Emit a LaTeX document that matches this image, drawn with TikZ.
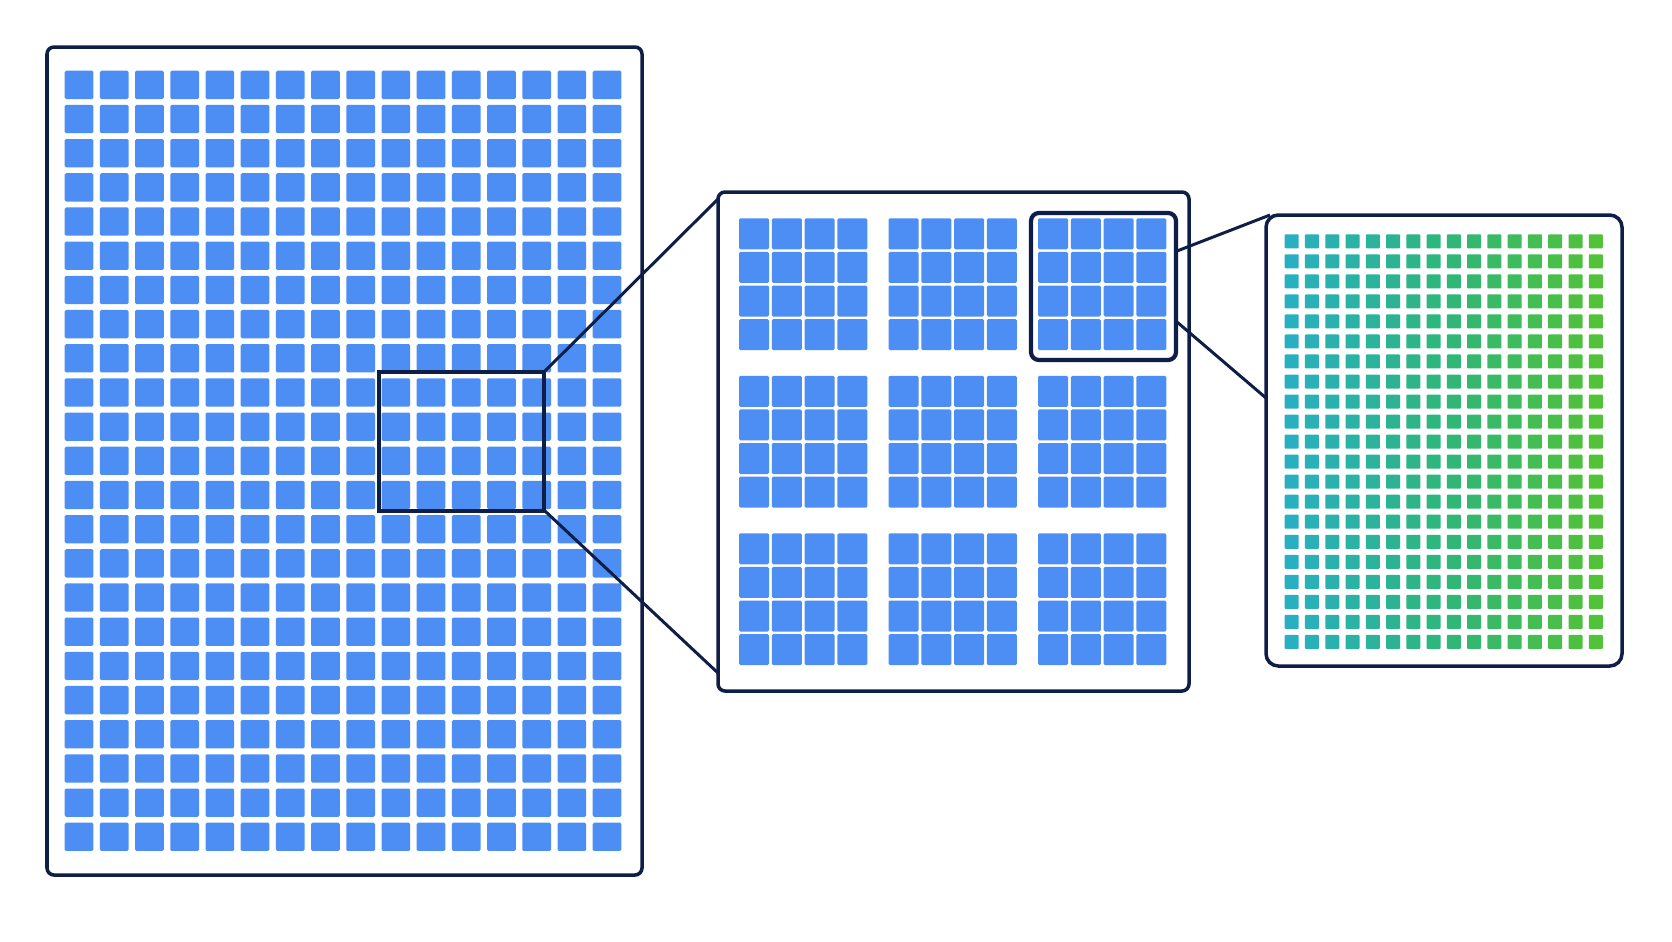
\documentclass[tikz,border=0pt]{standalone}
\usepackage{tikz}

\definecolor{navy}{RGB}{14,30,70}
\definecolor{cellblue}{RGB}{77,142,245}
\definecolor{tealc}{RGB}{40,176,192}
\definecolor{midc}{RGB}{46,182,122}
\definecolor{greenc}{RGB}{82,194,56}

\begin{document}
\begin{tikzpicture}[x=0.02cm,y=-0.02cm,
    panel/.style={draw=navy,line width=2pt,fill=white,rounded corners=4pt},
    frame/.style={draw=navy,line width=2.4pt},
    link/.style={navy,line width=1.7pt},
    cell/.style={fill=cellblue,rounded corners=0.8pt}]
    \useasboundingbox (0,0) rectangle (1672,941);

    % panels
    \draw[panel] (47,47) rectangle (642,875);
    \draw[panel] (718,192) rectangle (1189,691);
    \draw[panel,rounded corners=7pt] (1266,215) rectangle (1622,666);

    % full grid
    \foreach \i in {0,...,15}
        \foreach \j in {0,...,22}
            \fill[cell] ({64.7+35.2*\i},{70.7+34.18*\j}) rectangle +(28.7,28.3);

    % 3x3 blocks of 4x4
    \foreach \bi in {0,1,2}
        \foreach \bj in {0,1,2}
            \foreach \i in {0,...,3}
                \foreach \j in {0,...,3}
                    \fill[cell] ({739+149.5*\bi+32.8*\i},{218.3+157.5*\bj+33.6*\j}) rectangle +(30,31);

    % fine grid, teal to green
    \foreach \i in {0,...,15} {
        \ifnum\i<8
            \pgfmathtruncatemacro{\p}{\i*100/7.5}
            \colorlet{cc}{midc!\p!tealc}
        \else
            \pgfmathtruncatemacro{\p}{(\i-7.5)*100/7.5}
            \colorlet{cc}{greenc!\p!midc}
        \fi
        \foreach \j in {0,...,20}
            \fill[cc,rounded corners=0.5pt] ({1284.7+20.27*\i},{234.3+20.03*\j}) rectangle +(14,14);
    }

    % zoom frames
    \draw[frame] (379,372) rectangle (544,511);
    \draw[frame,rounded corners=4.5pt] (1031,213) rectangle (1176,360);

    \coordinate (hlTR) at (544,372);
    \coordinate (hlBR) at (545,511);
    \coordinate (midA) at (718,199);
    \coordinate (midB) at (718,673);
    \coordinate (blkTR) at (1177,251);
    \coordinate (blkBR) at (1177,322);
    \coordinate (rgtA) at (1270,215);
    \coordinate (rgtB) at (1266,398);

    % connectors
    \draw[link] (hlTR) -- (midA);
    \draw[link] (hlBR) -- (midB);
    \draw[link] (blkTR) -- (rgtA);
    \draw[link] (blkBR) -- (rgtB);
\end{tikzpicture}
\end{document}
